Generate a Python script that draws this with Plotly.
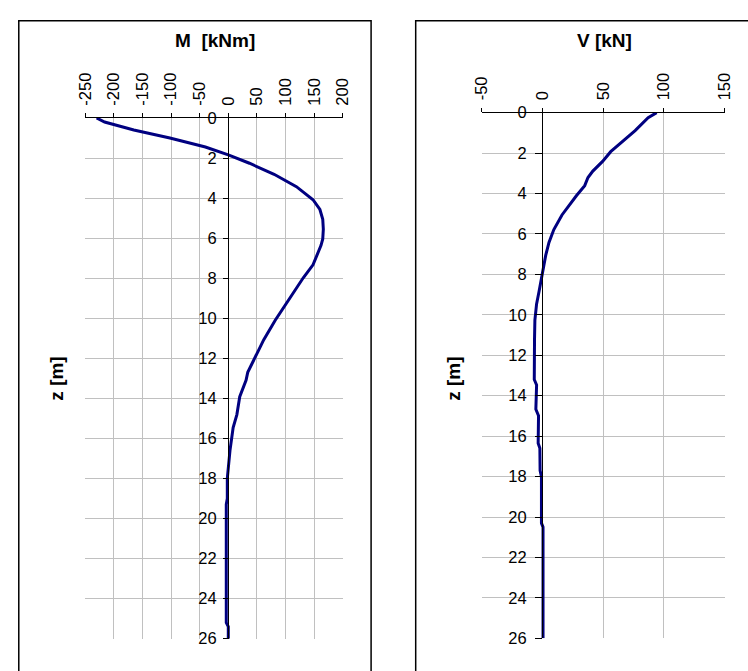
import plotly.graph_objects as go

# ---- data ----
m_z = [0, 0.2, 0.6, 1.0, 1.45, 1.84, 2.26, 2.81, 3.43, 4.08, 4.57, 5.06, 5.55, 6.04, 6.36,
       7.33, 7.98, 8.96, 10.1, 11.07, 11.72, 12.7, 13.1, 13.92, 14.81, 15.46, 16.6, 17.57,
       18.0, 19.0, 19.3, 25.2, 25.4, 26]
m_val = [-230, -216, -165, -102, -40, 0, 37, 80, 119, 148, 160, 165, 166, 165, 162,
         148, 131, 108, 82, 62, 51, 34, 31, 20, 15, 8.5, 3, 0,
         -1.7, -1.7, -3.5, -3.5, 0, 0]

v_z = [0, 0.25, 0.89, 1.45, 1.93, 2.41, 2.65, 2.89, 3.21, 3.61, 4.1, 4.5, 5.06, 5.78, 6.42,
       7.06, 8.02, 8.82, 9.46, 10.26, 11.2, 13.2, 13.47, 14.67, 14.99, 16.35, 16.6, 17.7,
       18.0, 20.3, 20.5, 26]
v_val = [94, 87, 76.3, 65.6, 56.2, 49.5, 45.5, 41.5, 37.5, 34.8, 28.1, 22.8, 16.1, 9.4, 5.4,
         2.7, 0, -2.7, -4.8, -6.2, -6.5, -6.7, -4.8, -5.4, -3.2, -3.5, -2.1, -1.9,
         -0.8, -0.8, 0.5, 0.5]

m_ticks = [-250, -200, -150, -100, -50, 0, 50, 100, 150, 200]
v_ticks = [-50, 0, 50, 100, 150]
z_ticks = list(range(0, 27, 2))

W, H = 748, 671
FONT = "Liberation Sans, Arial, sans-serif"
LINE = "#000080"
GRID = "#c0c0c0"

def px(x):
    return x / W

def py(y):
    return 1 - y / H

fig = go.Figure()
fig.add_trace(go.Scatter(x=m_val, y=m_z, mode="lines", line=dict(color=LINE, width=3),
                         xaxis="x", yaxis="y", showlegend=False))
fig.add_trace(go.Scatter(x=v_val, y=v_z, mode="lines", line=dict(color=LINE, width=3),
                         xaxis="x2", yaxis="y2", showlegend=False))

tickfont = dict(family=FONT, size=16.5, color="black")

def xax(domain, rng, ticks, anchor):
    return dict(domain=domain, range=rng, tickmode="array", tickvals=ticks,
                ticktext=[str(t) for t in ticks], side="top", anchor=anchor,
                tickangle=-90, ticks="outside", ticklen=4, tickcolor="black",
                showline=True, linecolor="black", linewidth=1, showgrid=True,
                gridcolor=GRID, gridwidth=1, zeroline=False, tickfont=tickfont,
                ticklabelstandoff=4, fixedrange=True)

def yax(domain, pos, tlen, stand):
    return dict(domain=domain, range=[26, 0], tickmode="array", tickvals=z_ticks,
                ticktext=[str(t) for t in z_ticks], anchor="free", position=pos,
                ticks="outside", ticklen=tlen, tickcolor="black", showline=True,
                linecolor="black", linewidth=1, showgrid=True, gridcolor=GRID,
                gridwidth=1, zeroline=False, tickfont=tickfont, ticklabelstandoff=stand,
                fixedrange=True)

fig.update_layout(
    width=W, height=H, margin=dict(l=0, r=0, t=0, b=0),
    paper_bgcolor="white", plot_bgcolor="white",
    xaxis=xax([px(77), px(341)], [-250, 200], m_ticks, "y"),
    yaxis=yax([py(647), py(112)], px(223.3), 5, 3),
    xaxis2=xax([px(483.3), px(732.3)], [-50, 150], v_ticks, "y2"),
    yaxis2=yax([py(646.7), py(106.5)], px(545), 7, 5),
)

# frames
fig.add_shape(type="rect", xref="paper", yref="paper", x0=px(9), x1=px(370),
              y0=-0.05, y1=py(12), line=dict(color="black", width=1.5))
fig.add_shape(type="rect", xref="paper", yref="paper", x0=px(415.7), x1=1.05,
              y0=-0.05, y1=py(12), line=dict(color="black", width=1.5))

bold = dict(family=FONT, size=19, color="black")
fig.add_annotation(x=px(210), y=py(32), xref="paper", yref="paper", showarrow=False,
                   text="<b>M\u00a0 [kNm]</b>", font=bold, xanchor="center", yanchor="middle")
fig.add_annotation(x=px(609), y=py(32), xref="paper", yref="paper", showarrow=False,
                   text="<b>V [kN]</b>", font=bold, xanchor="center", yanchor="middle")
fig.add_annotation(x=px(48), y=py(380), xref="paper", yref="paper", showarrow=False,
                   text="<b>z [m]</b>", font=bold, textangle=-90,
                   xanchor="center", yanchor="middle")
fig.add_annotation(x=px(455), y=py(380), xref="paper", yref="paper", showarrow=False,
                   text="<b>z [m]</b>", font=bold, textangle=-90,
                   xanchor="center", yanchor="middle")

fig.write_html("out.html")
